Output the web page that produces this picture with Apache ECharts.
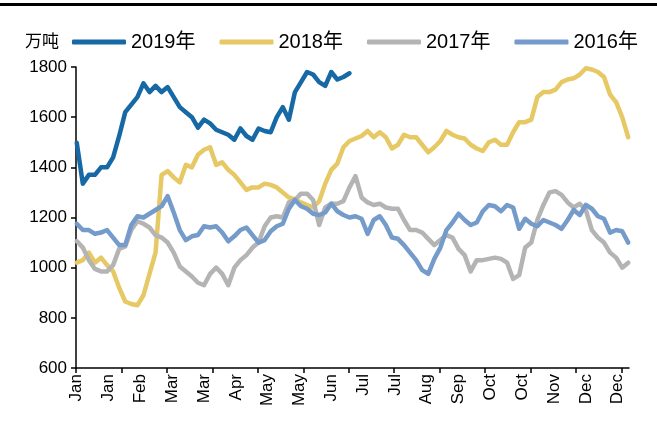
<!DOCTYPE html>
<html>
<head>
<meta charset="utf-8">
<script src="https://cdn.jsdelivr.net/npm/echarts@6/dist/echarts.min.js"></script>
<style>
  html, body { margin: 0; padding: 0; background: #fff; }
  #chart { width: 657px; height: 443px; }
</style>
</head>
<body>
<div id="chart"></div>
<script>
// Daily stock level (万吨), sampled every STEP days from 1 Jan
const STEP = 4;
const DAYS_IN_YEAR = 365;

const seriesNames = ['2019年', '2018年', '2017年', '2016年'];

const tickLabels = ['Jan', 'Jan', 'Feb', 'Mar', 'Mar', 'Apr', 'May', 'May', 'Jun',
                    'Jul', 'Jul', 'Aug', 'Sep', 'Oct', 'Oct', 'Nov', 'Dec', 'Dec'];
const LABEL_EVERY = 21;   // days between axis labels
const TICK_EVERY = 30;    // days between axis ticks

const values2019 = [1498, 1335, 1370, 1370, 1400, 1400, 1440, 1525, 1620, 1650,
                    1680, 1735, 1700, 1725, 1700, 1720, 1680, 1640, 1620, 1600,
                    1558, 1590, 1575, 1550, 1540, 1530, 1510, 1555, 1525, 1510,
                    1555, 1545, 1540, 1600, 1640, 1590, 1700, 1740, 1780, 1770,
                    1740, 1725, 1780, 1750, 1760, 1775];

const values2018 = [1020, 1030, 1060, 1020, 1040, 1010, 985, 920, 865, 855,
                    850, 890, 975, 1060, 1370, 1385, 1360, 1340, 1410, 1400,
                    1450, 1470, 1480, 1410, 1420, 1390, 1370, 1340, 1310, 1320,
                    1320, 1335, 1330, 1320, 1300, 1280, 1272, 1260, 1250, 1240,
                    1265, 1335, 1390, 1415, 1480, 1505, 1515, 1525, 1545, 1520,
                    1540, 1520, 1475, 1490, 1530, 1520, 1520, 1490, 1460, 1480,
                    1505, 1545, 1530, 1520, 1515, 1490, 1475, 1465, 1500, 1510,
                    1490, 1490, 1540, 1580, 1580, 1590, 1680, 1700, 1700, 1710,
                    1740, 1750, 1755, 1770, 1795, 1790, 1780, 1760, 1690, 1660,
                    1600, 1520];

const values2017 = [1106, 1080, 1030, 995, 985, 985, 1010, 1075, 1085, 1150,
                    1185, 1175, 1160, 1130, 1120, 1100, 1060, 1005, 985, 965,
                    940, 930, 975, 1000, 975, 930, 1000, 1030, 1050, 1080,
                    1100, 1165, 1200, 1205, 1200, 1260, 1270, 1295, 1295, 1270,
                    1170, 1240, 1255, 1255, 1265, 1320, 1365, 1280, 1260, 1250,
                    1255, 1240, 1235, 1235, 1190, 1150, 1150, 1140, 1115, 1090,
                    1110, 1130, 1120, 1075, 1050, 985, 1030, 1030, 1035, 1040,
                    1035, 1020, 955, 970, 1080, 1100, 1190, 1250, 1300, 1305,
                    1290, 1260, 1240, 1255, 1230, 1150, 1120, 1100, 1060, 1040,
                    1000, 1020];

const values2016 = [1175, 1150, 1150, 1135, 1140, 1150, 1120, 1090, 1090, 1170,
                    1205, 1200, 1215, 1230, 1245, 1285, 1220, 1150, 1110, 1125,
                    1130, 1165, 1160, 1165, 1140, 1105, 1125, 1150, 1160, 1130,
                    1100, 1110, 1145, 1165, 1175, 1235, 1270, 1245, 1235, 1215,
                    1210, 1220, 1255, 1225, 1210, 1200, 1205, 1195, 1135, 1190,
                    1205, 1170, 1120, 1115, 1090, 1060, 1030, 990, 975, 1035,
                    1080, 1150, 1180, 1215, 1190, 1170, 1180, 1225, 1250, 1245,
                    1225, 1250, 1240, 1155, 1195, 1175, 1165, 1190, 1180, 1170,
                    1155, 1190, 1230, 1210, 1250, 1235, 1205, 1195, 1140, 1150,
                    1145, 1100];

const seriesValues = [values2019, values2018, values2017, values2016];
const seriesColors = ['#1769A5', '#E6C864', '#B4B4B4', '#759BCA'];

const FONT = "'Liberation Sans', Arial, 'Noto Sans CJK SC', sans-serif";

// day index -> value pairs, placed at the middle of each day
function toPoints(values) {
  return values.map((v, i) => [i * STEP + 0.5, v]);
}

const labelPositions = tickLabels.map((_, i) => i * LABEL_EVERY + 0.5);
const tickPositions = [];
for (let d = 0; d <= DAYS_IN_YEAR; d += TICK_EVERY) tickPositions.push(d);

const chart = echarts.init(document.getElementById('chart'), null, { renderer: 'canvas' });

chart.setOption({
  backgroundColor: '#fff',
  animation: false,
  graphic: [
    { type: 'rect', left: 0, top: 3, shape: { width: 657, height: 3 }, style: { fill: '#000' } },
    { type: 'text', left: 25, top: 32,
      style: { text: '万吨', font: "17px 'Noto Sans CJK SC', sans-serif", fill: '#000' } }
  ],
  legend: {
    data: seriesNames,
    left: 67,
    top: 27,
    icon: 'roundRect',
    itemWidth: 54,
    itemHeight: 5,
    itemGap: 24,
    textStyle: { fontSize: 20, color: '#000', fontFamily: FONT }
  },
  grid: { left: 76, right: 28, top: 67, bottom: 75, containLabel: false, outerBoundsMode: 'none' },
  xAxis: {
    type: 'value',
    min: 0,
    max: DAYS_IN_YEAR,
    axisLine: { show: true, lineStyle: { color: '#000', width: 1.5 } },
    axisTick: { show: true, length: 5, lineStyle: { color: '#000', width: 1.5 }, customValues: tickPositions },
    splitLine: { show: false },
    axisLabel: {
      customValues: labelPositions,
      rotate: 90,
      margin: 6,
      fontSize: 17,
      color: '#000',
      fontFamily: FONT,
      formatter: (v) => tickLabels[Math.round((v - 0.5) / LABEL_EVERY)]
    }
  },
  yAxis: {
    type: 'value',
    min: 600,
    max: 1800,
    interval: 200,
    axisLine: { show: true, lineStyle: { color: '#000', width: 1.5 } },
    axisTick: { show: true, length: 5, lineStyle: { color: '#000', width: 1.5 } },
    splitLine: { show: false },
    axisLabel: { fontSize: 17, color: '#000', fontFamily: FONT, margin: 9, formatter: (v) => String(v) }
  },
  series: seriesNames.map((name, i) => ({
    name,
    type: 'line',
    data: toPoints(seriesValues[i]),
    symbol: 'none',
    showSymbol: false,
    color: seriesColors[i],
    lineStyle: { width: 4.5, color: seriesColors[i], cap: 'round', join: 'round' },
    emphasis: { disabled: true }
  }))
});
</script>
</body>
</html>
